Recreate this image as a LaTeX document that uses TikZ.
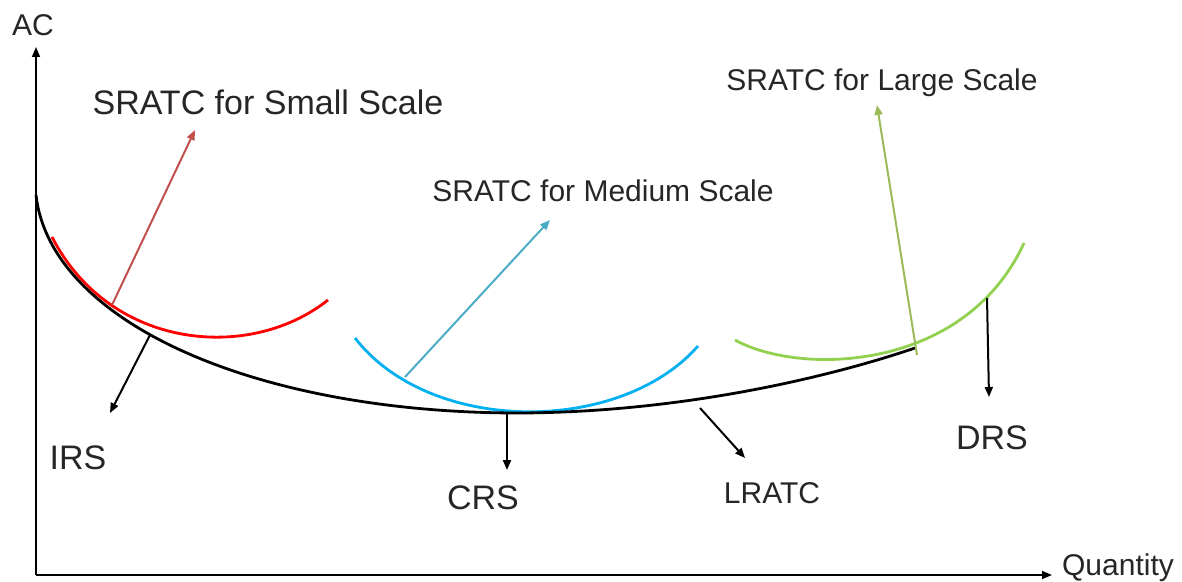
\documentclass[tikz,border=0pt]{standalone}
\usepackage{fontspec}
\setmainfont{Liberation Sans}
\usetikzlibrary{arrows.meta}
\definecolor{redcurve}{HTML}{FF0000}
\definecolor{redarrow}{HTML}{C0504D}
\definecolor{bluecurve}{HTML}{00B0F0}
\definecolor{bluearrow}{HTML}{4BACC6}
\definecolor{greencurve}{HTML}{92D050}
\definecolor{greenarrow}{HTML}{9BBB59}
\definecolor{labeltext}{HTML}{262626}

\begin{document}
\begin{tikzpicture}[x=0.5pt,y=-0.5pt,
  every node/.style={font=\fontsize{15}{18}\selectfont,text=labeltext,inner sep=0pt},
  bigtext/.style={font=\fontsize{17}{20}\selectfont},
  tip/.style={-{Triangle[length=5pt,width=4pt]}},
  axis/.style={line width=0.75pt,tip},
  pointer/.style={line width=1pt,tip},
  curve/.style={line width=1.4pt}]
  \useasboundingbox (0,0) rectangle (1182,582);
  % axes
  \coordinate (origin) at (36,575);
  \coordinate (ytop) at (36,47);
  \coordinate (xend) at (1052,575);
  \node (ac) at (33,25) {AC};
  \node (qty) at (1118,568) {Quantity};
  \draw[axis] (origin) -- (ytop);
  \draw[axis] (origin) -- (xend);
  % short run curves
  \draw[curve,redcurve] (52,237) .. controls (110,350) and (250,362) .. (328,300);
  \draw[curve,bluecurve] (355,338) .. controls (430,435) and (620,435) .. (698,346);
  \draw[curve,greencurve] (735,340) .. controls (800,376) and (965,372) .. (1024,243);
  % long run curve
  \draw[curve,black] (36,195) .. controls (50,320) and (250,412) .. (515,413)
    .. controls (680,413) and (830,377) .. (915,348);
  % labels
  \node[bigtext] (small) at (268,102) {SRATC for Small Scale};
  \node (medium) at (603,191) {SRATC for Medium Scale};
  \node (large) at (882,83) {SRATC for Large Scale};
  \node[bigtext] (irs) at (78,458) {IRS};
  \node[bigtext] (crs) at (483,498) {CRS};
  \node (lratc) at (772,493) {LRATC};
  \node[bigtext] (drs) at (992,438) {DRS};
  % pointer ends
  \coordinate (smallfoot) at (112,305);
  \coordinate (smallhead) at (195,130);
  \coordinate (mediumfoot) at (405,377);
  \coordinate (mediumhead) at (550,220);
  \coordinate (largefoot) at (917,355);
  \coordinate (largehead) at (877,105);
  \coordinate (irsfoot) at (150,335);
  \coordinate (irshead) at (110,413);
  \coordinate (crsfoot) at (507,413);
  \coordinate (crshead) at (507,470);
  \coordinate (lratcfoot) at (700,408);
  \coordinate (lratchead) at (745,458);
  \coordinate (drsfoot) at (987,298);
  \coordinate (drshead) at (989,397);
  % pointers
  \draw[pointer,redarrow] (smallfoot) -- (smallhead);
  \draw[pointer,bluearrow] (mediumfoot) -- (mediumhead);
  \draw[pointer,greenarrow] (largefoot) -- (largehead);
  \foreach \from/\to in {irsfoot/irshead,crsfoot/crshead,lratcfoot/lratchead,drsfoot/drshead}
    \draw[pointer,black] (\from) -- (\to);
\end{tikzpicture}
\end{document}
